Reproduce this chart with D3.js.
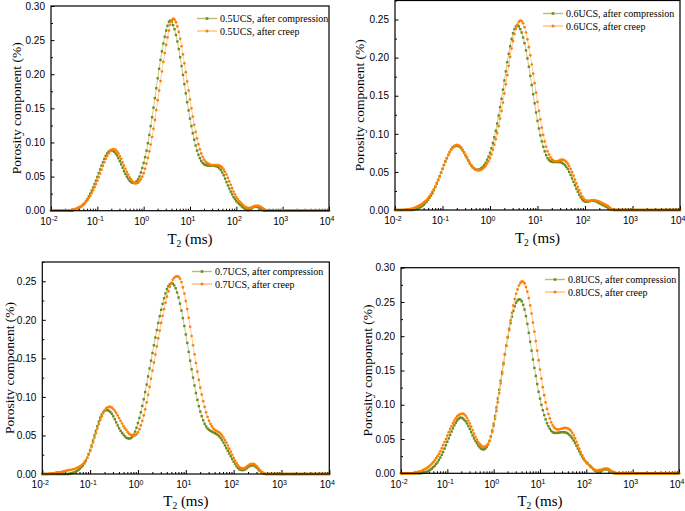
<!DOCTYPE html>
<html>
<head>
<meta charset="utf-8">
<script src="https://cdn.jsdelivr.net/npm/d3@7"></script>
<style>
  body { margin: 0; background: #fff; }
  svg { display: block; }
  .tick text { font-family: "Liberation Sans", Arial, sans-serif; font-size: 10px; fill: #000; }
  .tick line { stroke: #000; stroke-width: 1; }
  .xlab { font-family: "Liberation Sans", Arial, sans-serif; font-size: 10px; }
  .title { font-family: "Liberation Serif", "Times New Roman", serif; font-size: 15px; }
  .legend { font-family: "Liberation Serif", "Times New Roman", serif; font-size: 10px; }
</style>
</head>
<body>
<div id="chart"></div>
<script>
// T2 bins (ms), 199 log-spaced points from 0.01 to 10000
const t2 = [
  0.01, 0.01072, 0.0115, 0.01233, 0.01322, 0.01417, 0.0152, 0.0163, 0.01748, 0.01874,
  0.02009, 0.02154, 0.0231, 0.02477, 0.02656, 0.02848, 0.03054, 0.03275, 0.03511, 0.03765,
  0.04037, 0.04329, 0.04642, 0.04977, 0.05337, 0.05722, 0.06136, 0.06579, 0.07055, 0.07565,
  0.08111, 0.08697, 0.09326,
  0.1, 0.1072, 0.115, 0.1233, 0.1322, 0.1417, 0.152, 0.163, 0.1748, 0.1874,
  0.2009, 0.2154, 0.231, 0.2477, 0.2656, 0.2848, 0.3054, 0.3275, 0.3511, 0.3765,
  0.4037, 0.4329, 0.4642, 0.4977, 0.5337, 0.5722, 0.6136, 0.6579, 0.7055, 0.7565,
  0.8111, 0.8697, 0.9326,
  1, 1.072, 1.15, 1.233, 1.322, 1.417, 1.52, 1.63, 1.748, 1.874,
  2.009, 2.154, 2.31, 2.477, 2.656, 2.848, 3.054, 3.275, 3.511, 3.765,
  4.037, 4.329, 4.642, 4.977, 5.337, 5.722, 6.136, 6.579, 7.055, 7.565,
  8.111, 8.697, 9.326,
  10, 10.72, 11.5, 12.33, 13.22, 14.17, 15.2, 16.3, 17.48, 18.74,
  20.09, 21.54, 23.1, 24.77, 26.56, 28.48, 30.54, 32.75, 35.11, 37.65,
  40.37, 43.29, 46.42, 49.77, 53.37, 57.22, 61.36, 65.79, 70.55, 75.65,
  81.11, 86.97, 93.26,
  100, 107.2, 115, 123.3, 132.2, 141.7, 152, 163, 174.8, 187.4,
  200.9, 215.4, 231, 247.7, 265.6, 284.8, 305.4, 327.5, 351.1, 376.5,
  403.7, 432.9, 464.2, 497.7, 533.7, 572.2, 613.6, 657.9, 705.5, 756.5,
  811.1, 869.7, 932.6,
  1000, 1072, 1150, 1233, 1322, 1417, 1520, 1630, 1748, 1874,
  2009, 2154, 2310, 2477, 2656, 2848, 3054, 3275, 3511, 3765,
  4037, 4329, 4642, 4977, 5337, 5722, 6136, 6579, 7055, 7565,
  8111, 8697, 9326,
  10000
];

const comp05 = [
  0,0,0,0,0,0,0,0,0,0,
  0,0,0,0,0,0,.001,.0015,.002,.003,
  .004,.0055,.007,.009,.011,.014,.017,.021,.025,.0295,
  .034,.039,.044,.0495,.055,.0605,.066,.071,.076,.0805,
  .084,.0865,.088,.0885,.088,.0865,.084,.081,.077,.0725,
  .068,.063,.058,.054,.050,.047,.044,.042,.041,.0405,
  .041,.043,.046,.050,.056,.0625,.070,.0785,.088,.099,
  .111,.124,.137,.151,.165,.1795,.194,.208,.221,.2335,
  .245,.255,.264,.271,.277,.2785,.277,.272,.266,.2575,
  .248,.237,.225,.212,.199,.1855,.172,.159,.147,.135,
  .124,.1135,.104,.0955,.088,.082,.077,.073,.070,.068,
  .067,.0665,.066,.066,.066,.066,.066,.0655,.065,.064,
  .062,.0595,.056,.052,.047,.042,.037,.0325,.028,.024,
  .020,.017,.014,.012,.010,.008,.006,.0045,.003,.002,
  .001,.001,.002,.0035,.005,.006,.006,.0055,.005,.0035,
  .002,.001,0,0,0,0,0,0,0,0,
  0,0,0,0,0,0,0,0,0,0,
  0,0,0,0,0,0,0,0,0,0,
  0,0,0,0,0,0,0,0,0,0,
  0,0,0,0,0,0,0,0,0
];
const creep05 = [
  0,0,0,0,0,0,0,0,0,0,
  0,0,0,.0005,.001,.0015,.002,.0025,.003,.004,
  .005,.006,.007,.009,.011,.0135,.016,.019,.022,.026,
  .030,.0345,.039,.044,.049,.0545,.060,.0655,.071,.0758,
  .080,.084,.087,.089,.090,.0898,.089,.0868,.084,.080,
  .076,.071,.066,.0615,.057,.053,.049,.046,.043,.0413,
  .040,.0402,.041,.043,.046,.050,.055,.0615,.069,.0775,
  .087,.097,.108,.120,.133,.1475,.162,.176,.190,.204,
  .218,.231,.243,.254,.264,.2725,.279,.2815,.280,.2763,
  .270,.262,.252,.241,.229,.216,.203,.1895,.176,.163,
  .150,.138,.126,.1155,.106,.0975,.090,.084,.079,.075,
  .072,.070,.069,.068,.067,.067,.067,.067,.067,.0668,
  .066,.065,.063,.0603,.057,.053,.048,.043,.038,.033,
  .028,.024,.020,.017,.014,.012,.010,.008,.006,.005,
  .004,.0038,.004,.005,.006,.0067,.007,.0072,.007,.006,
  .005,.0035,.002,.001,0,0,0,0,0,0,
  0,0,0,0,0,0,0,0,0,0,
  0,0,0,0,0,0,0,0,0,0,
  0,0,0,0,0,0,0,0,0,0,
  0,0,0,0,0,0,0,0,0
];

const comp06 = [
  0,0,0,0,0,0,0,0,0,0,
  0,0,0,.0005,.001,.0015,.002,.003,.004,.0055,
  .007,.009,.011,.0135,.016,.019,.022,.026,.030,.0345,
  .039,.044,.049,.054,.059,.0637,.068,.0722,.076,.0793,
  .082,.0835,.084,.0845,.084,.0828,.081,.0782,.075,.0715,
  .068,.0645,.061,.0583,.056,.0543,.053,.0527,.053,.0537,
  .055,.0567,.059,.062,.066,.070,.075,.081,.088,.0955,
  .104,.1135,.124,.135,.146,.158,.170,.182,.194,.205,
  .215,.2245,.232,.2375,.241,.2422,.241,.2375,.233,.2265,
  .219,.2095,.199,.188,.176,.164,.152,.140,.128,.117,
  .107,.098,.090,.083,.077,.072,.068,.0655,.064,.0633,
  .063,.063,.063,.063,.063,.0627,.062,.0607,.059,.0567,
  .054,.050,.046,.0415,.037,.0325,.028,.024,.020,.0168,
  .014,.012,.011,.0108,.011,.0115,.012,.0122,.012,.0117,
  .011,.010,.009,.008,.007,.006,.005,.004,.003,.002,
  .001,.0005,0,0,0,0,0,0,0,0,
  0,0,0,0,0,0,0,0,0,0,
  0,0,0,0,0,0,0,0,0,0,
  0,0,0,0,0,0,0,0,0,0,
  0,0,0,0,0,0,0,0,0
];
const creep06 = [
  0,0,0,0,0,0,0,.0005,.001,.001,
  .001,.0015,.002,.0025,.003,.004,.005,.006,.007,.0085,
  .010,.0115,.013,.0155,.018,.021,.024,.0275,.031,.0355,
  .040,.0445,.049,.054,.059,.0637,.068,.0722,.076,.0793,
  .082,.084,.085,.0855,.085,.0838,.082,.079,.076,.0725,
  .069,.0655,.062,.0588,.056,.0543,.053,.0523,.052,.0523,
  .053,.0543,.056,.058,.061,.064,.068,.073,.079,.0857,
  .093,.101,.110,.120,.130,.141,.153,.165,.177,.189,
  .201,.212,.222,.231,.238,.2435,.247,.2485,.248,.2452,
  .240,.233,.224,.2137,.203,.191,.179,.1665,.154,.142,
  .130,.119,.108,.0985,.090,.083,.077,.0727,.069,.0665,
  .065,.0643,.064,.0643,.065,.0657,.066,.0657,.065,.0633,
  .061,.058,.054,.0497,.045,.040,.035,.0305,.026,.022,
  .018,.0153,.013,.0123,.012,.012,.012,.0125,.013,.0127,
  .012,.0117,.011,.010,.009,.008,.007,.006,.005,.0035,
  .002,.001,0,0,0,0,0,0,0,0,
  0,0,0,0,0,0,0,0,0,0,
  0,0,0,0,0,0,0,0,0,0,
  0,0,0,0,0,0,0,0,0,0,
  0,0,0,0,0,0,0,0,0
];

const comp07 = [
  0,0,0,0,0,0,0,0,0,0,
  0,0,0,0,0,0,0,0,0,.0005,
  .001,.0015,.002,.003,.004,.0055,.007,.009,.011,.0138,
  .017,.021,.026,.031,.037,.0435,.050,.056,.062,.068,
  .073,.077,.080,.082,.083,.0828,.082,.0803,.078,.0748,
  .071,.067,.063,.0593,.056,.0533,.051,.0487,.047,.0462,
  .046,.0465,.048,.051,.055,.060,.066,.0727,.080,.0883,
  .097,.1063,.116,.1265,.137,.147,.157,.167,.177,.1867,
  .196,.2047,.213,.2207,.228,.2343,.240,.2437,.246,.2472,
  .247,.2447,.241,.2355,.229,.221,.212,.2022,.192,.181,
  .170,.1585,.147,.1358,.125,.1148,.105,.0962,.088,.081,
  .075,.0697,.065,.0617,.059,.0573,.056,.055,.054,.053,
  .052,.0507,.049,.0467,.044,.0407,.037,.0335,.030,.0265,
  .023,.0195,.016,.013,.010,.0078,.006,.0053,.005,.0053,
  .006,.0075,.009,.0102,.011,.0113,.011,.0097,.008,.006,
  .004,.0025,.001,.0005,0,0,0,0,0,0,
  0,0,0,0,0,0,0,0,0,0,
  0,0,0,0,0,0,0,0,0,0,
  0,0,0,0,0,0,0,0,0,0,
  0,0,0,0,0,0,0,0,0
];
const creep07 = [
  0,0,0,0,0,.0005,.001,.001,.001,.0015,
  .002,.002,.002,.0025,.003,.0035,.004,.0045,.005,.0052,
  .0055,.006,.0065,.007,.008,.009,.010,.0113,.013,.015,
  .018,.021,.025,.0297,.035,.041,.047,.053,.059,.0647,
  .070,.0748,.079,.0823,.085,.0863,.087,.087,.086,.0843,
  .082,.0792,.076,.0725,.069,.0655,.062,.0593,.057,.0543,
  .052,.0507,.050,.0497,.050,.0515,.054,.058,.063,.069,
  .076,.084,.093,.1027,.113,.1235,.134,.1445,.155,.1655,
  .176,.186,.196,.2053,.214,.2222,.230,.237,.243,.248,
  .252,.2545,.256,.2565,.256,.2535,.249,.242,.234,.2243,
  .214,.2027,.191,.179,.167,.1553,.144,.1327,.122,.112,
  .103,.0945,.087,.080,.074,.069,.065,.0617,.059,.0573,
  .056,.055,.054,.0522,.050,.0473,.044,.0407,.037,.033,
  .029,.025,.021,.0173,.014,.0113,.009,.0077,.007,.0073,
  .008,.0095,.011,.0123,.013,.0133,.013,.0118,.010,.0075,
  .005,.0033,.002,.001,0,0,0,0,0,0,
  0,0,0,0,0,0,0,0,0,0,
  0,0,0,0,0,0,0,0,0,0,
  0,0,0,0,0,0,0,0,0,0,
  0,0,0,0,0,0,0,0,0
];

const comp08 = [
  0,0,0,0,0,0,0,0,0,0,
  0,0,0,0,0,.0005,.001,.0015,.002,.003,
  .004,.0055,.007,.009,.011,.0135,.016,.0195,.023,.027,
  .031,.036,.041,.046,.051,.056,.061,.0657,.070,.0738,
  .077,.0795,.081,.0812,.080,.0783,.076,.0728,.069,.0647,
  .060,.0553,.051,.0473,.044,.0408,.038,.036,.035,.0348,
  .036,.0383,.042,.047,.054,.0625,.072,.0835,.096,.109,
  .122,.135,.148,.161,.174,.1862,.198,.209,.219,.2285,
  .237,.2437,.249,.2522,.254,.2535,.251,.2458,.239,.2293,
  .218,.205,.192,.179,.166,.1538,.142,.1303,.119,.109,
  .100,.092,.085,.0787,.073,.0687,.065,.062,.060,.059,
  .059,.059,.059,.0595,.060,.060,.060,.0597,.059,.0578,
  .056,.0537,.051,.0477,.044,.040,.036,.032,.028,.0243,
  .021,.0183,.016,.014,.012,.010,.008,.006,.004,.0028,
  .002,.0023,.003,.004,.005,.0057,.006,.0057,.005,.0035,
  .002,.001,0,0,0,0,0,0,0,0,
  0,0,0,0,0,0,0,0,0,0,
  0,0,0,0,0,0,0,0,0,0,
  0,0,0,0,0,0,0,0,0,0,
  0,0,0,0,0,0,0,0,0
];
const creep08 = [
  0,0,0,0,0,0,0,0,0,.0005,
  .001,.0015,.002,.0025,.003,.004,.005,.006,.007,.0085,
  .010,.012,.014,.0163,.019,.022,.025,.0283,.032,.0363,
  .041,.0455,.050,.055,.060,.0647,.069,.0733,.077,.0802,
  .083,.085,.086,.0868,.087,.086,.084,.081,.077,.0727,
  .068,.063,.058,.0533,.049,.0457,.043,.0408,.039,.0385,
  .039,.0405,.043,.0475,.053,.0605,.069,.0795,.091,.1038,
  .117,.131,.145,.159,.173,.1862,.199,.2112,.223,.2343,
  .245,.2542,.262,.2685,.274,.2775,.280,.2795,.277,.2718,
  .265,.2557,.245,.233,.220,.2067,.193,.179,.165,.1513,
  .138,.1257,.114,.1035,.094,.0865,.080,.0745,.070,.067,
  .065,.0643,.064,.0643,.065,.0655,.066,.0662,.066,.0652,
  .064,.062,.059,.0553,.051,.046,.041,.036,.031,.0263,
  .022,.0187,.016,.014,.012,.010,.008,.0063,.005,.0043,
  .004,.0045,.005,.0055,.006,.0067,.007,.0067,.006,.0045,
  .003,.002,.001,.0005,0,0,0,0,0,0,
  0,0,0,0,0,0,0,0,0,0,
  0,0,0,0,0,0,0,0,0,0,
  0,0,0,0,0,0,0,0,0,0,
  0,0,0,0,0,0,0,0,0
];

const loads = ["0.5UCS", "0.6UCS", "0.7UCS", "0.8UCS"];
const seriesNames = ["after compression", "after creep"];
const yTicks30 = [0, 0.05, 0.10, 0.15, 0.20, 0.25, 0.30];
const yTicks25 = [0, 0.05, 0.10, 0.15, 0.20, 0.25];
const xDecades = [-2, -1, 0, 1, 2, 3, 4];

const greenMark = "#6e8a1e", greenLine = "#b4c07a";
const orangeMark = "#ff8000", orangeLine = "#ffbe80";

const panels = [
  {load: loads[0], comp: comp05, creep: creep05, yTicks: yTicks30, ymax: 0.30,
   left: 51, right: 329, top: 6, bottom: 210.7, legX: 197, legY: 18.5, yTitleX: 16, xTitleY: 244, xLabY: 224.5},
  {load: loads[1], comp: comp06, creep: creep06, yTicks: yTicks25, ymax: 0.275,
   left: 395, right: 680, top: 0.5, bottom: 210, legX: 543, legY: 13.5, yTitleX: 359, xTitleY: 243, xLabY: 224},
  {load: loads[2], comp: comp07, creep: creep07, yTicks: yTicks25, ymax: 0.275,
   left: 42.3, right: 329.3, top: 262, bottom: 474, legX: 192, legY: 271.5, yTitleX: 9, xTitleY: 506, xLabY: 488},
  {load: loads[3], comp: comp08, creep: creep08, yTicks: yTicks30, ymax: 0.30,
   left: 401, right: 679, top: 267.7, bottom: 473.3, legX: 545, legY: 279.5, yTitleX: 367, xTitleY: 506, xLabY: 487.5}
];

const svg = d3.select("#chart").append("svg")
  .attr("width", 685)
  .attr("height", 511);

function drawPanel(p) {
  const x = d3.scaleLog().domain([0.01, 10000]).range([p.left, p.right]);
  const y = d3.scaleLinear().domain([0, p.ymax]).range([p.bottom, p.top]);
  const g = svg.append("g");

  // minor ticks on log axis
  const minors = [];
  xDecades.slice(0, -1).forEach(e => {
    for (let m = 2; m <= 9; m++) minors.push(m * Math.pow(10, e));
  });

  g.append("g")
    .attr("transform", `translate(0,${p.bottom})`)
    .call(d3.axisBottom(x).tickValues(minors).tickSize(-2).tickFormat(""))
    .call(a => a.select(".domain").remove());
  g.append("g")
    .attr("transform", `translate(0,${p.bottom})`)
    .call(d3.axisBottom(x).tickValues(xDecades.map(e => Math.pow(10, e))).tickSize(-4).tickFormat(""))
    .call(a => a.select(".domain").remove());

  const yMinor = p.yTicks.slice(0, -1).map(v => v + 0.025);
  if (p.ymax > p.yTicks[p.yTicks.length - 1]) yMinor.push(p.yTicks[p.yTicks.length - 1] + 0.025);
  g.append("g")
    .attr("transform", `translate(${p.left},0)`)
    .call(d3.axisLeft(y).tickValues(yMinor).tickSize(-2).tickFormat(""))
    .call(a => a.select(".domain").remove());
  g.append("g")
    .attr("transform", `translate(${p.left},0)`)
    .call(d3.axisLeft(y).tickValues(p.yTicks).tickSize(-3.5).tickPadding(6).tickFormat(d3.format(".2f")))
    .call(a => a.select(".domain").remove());

  // decade labels with superscripts
  const xl = g.selectAll(".xlab").data(xDecades).enter().append("text")
    .attr("class", "xlab")
    .attr("x", d => x(Math.pow(10, d)) - 2)
    .attr("y", p.xLabY)
    .attr("text-anchor", "middle");
  xl.append("tspan").text("10");
  xl.append("tspan").attr("dy", -3.5).attr("font-size", "7px").text(d => d);

  // series lines and markers
  const pts = vals => t2.map((t, i) => [t, vals[i] || 0]);
  const line = d3.line().x(d => x(d[0])).y(d => y(d[1]));

  g.append("path").datum(pts(p.comp))
    .attr("fill", "none").attr("stroke", greenLine).attr("stroke-width", 0.8)
    .attr("d", line);
  g.selectAll(".gm").data(pts(p.comp)).enter().append("rect")
    .attr("class", "gm")
    .attr("x", d => x(d[0]) - 1.2).attr("y", d => y(d[1]) - 1.2)
    .attr("width", 2.4).attr("height", 2.4)
    .attr("fill", greenMark);

  g.append("path").datum(pts(p.creep))
    .attr("fill", "none").attr("stroke", orangeLine).attr("stroke-width", 0.8)
    .attr("d", line);
  g.selectAll(".om").data(pts(p.creep)).enter().append("circle")
    .attr("class", "om")
    .attr("cx", d => x(d[0])).attr("cy", d => y(d[1]))
    .attr("r", 1.35)
    .attr("fill", orangeMark);

  // frame
  g.append("rect")
    .attr("x", p.left).attr("y", p.top)
    .attr("width", p.right - p.left).attr("height", p.bottom - p.top)
    .attr("fill", "none").attr("stroke", "#000").attr("stroke-width", 1.2);

  // legend
  const leg = [[greenLine, greenMark, "rect"], [orangeLine, orangeMark, "circle"]];
  leg.forEach((l, i) => {
    const ly = p.legY + i * 12.5;
    g.append("line")
      .attr("x1", p.legX).attr("x2", p.legX + 20).attr("y1", ly).attr("y2", ly)
      .attr("stroke", l[0]).attr("stroke-width", 1.4);
    if (l[2] === "rect") {
      g.append("rect").attr("x", p.legX + 8.7).attr("y", ly - 1.3)
        .attr("width", 2.6).attr("height", 2.6).attr("fill", l[1]);
    } else {
      g.append("circle").attr("cx", p.legX + 10).attr("cy", ly).attr("r", 1.5).attr("fill", l[1]);
    }
    g.append("text").attr("class", "legend")
      .attr("x", p.legX + 23).attr("y", ly).attr("dy", "0.35em")
      .text(p.load + ", " + seriesNames[i]);
  });

  // axis titles
  g.append("text").attr("class", "title")
    .attr("transform", `translate(${p.yTitleX},${(p.top + p.bottom) / 2}) rotate(-90)`)
    .attr("text-anchor", "middle").attr("dy", "0.35em")
    .style("font-size", "13.5px")
    .text("Porosity component (%)");
  const xt = g.append("text").attr("class", "title")
    .attr("x", (p.left + p.right) / 2).attr("y", p.xTitleY)
    .attr("text-anchor", "middle");
  xt.append("tspan").text("T");
  xt.append("tspan").attr("dy", 3).attr("font-size", "9.5px").text("2");
  xt.append("tspan").attr("dy", -3).text(" (ms)");
}

panels.forEach(drawPanel);
</script>
</body>
</html>
